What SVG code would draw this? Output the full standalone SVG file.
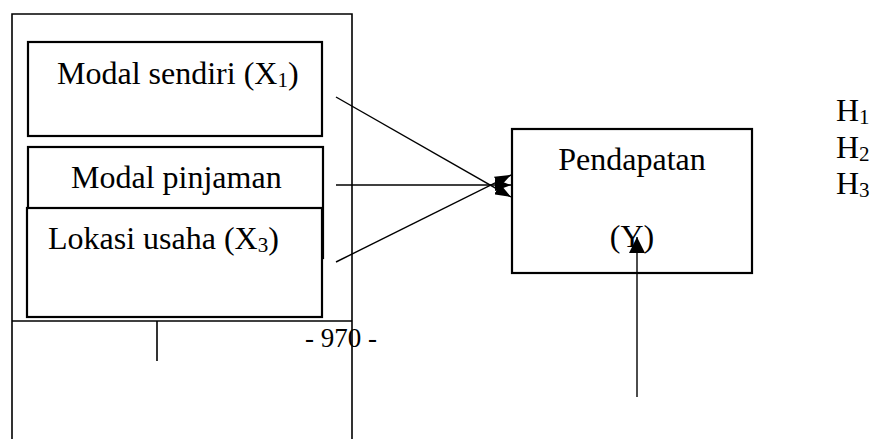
<svg xmlns="http://www.w3.org/2000/svg" width="875" height="439" viewBox="0 0 875 439">
<style>
text{font-family:"Liberation Serif","Times New Roman",serif;fill:#000;font-size:32px}
.box{fill:#fff;stroke:#000;stroke-width:2.2}
.frame{fill:none;stroke:#000;stroke-width:1.6}
.conn{fill:none;stroke:#000;stroke-width:1.4}
.sub{font-size:21px}
</style>
<defs>
<marker id="ah" markerUnits="userSpaceOnUse" markerWidth="16" markerHeight="12" refX="16" refY="6" orient="auto">
<path d="M0,0 L16,6 L0,12 z" fill="#000"/>
</marker>
<marker id="ahv" markerUnits="userSpaceOnUse" markerWidth="16" markerHeight="16" refX="16" refY="8" orient="auto">
<path d="M0,0 L16,8 L0,16 z" fill="#000"/>
</marker>
</defs>
<g id="frame">
<path class="frame" d="M12,439 V14 H352 V439"/>
<line class="frame" x1="12" y1="321" x2="352" y2="321"/>
<line class="frame" x1="157" y1="321" x2="157" y2="361"/>
</g>
<g id="node-x1">
<rect class="box" x="28" y="42" width="294" height="94"/>
<text x="57" y="84">Modal sendiri (X<tspan class="sub" dy="3">1</tspan><tspan dy="-3">)</tspan></text>
</g>
<g id="node-x2">
<rect class="box" x="28" y="147" width="295" height="111"/>
<text x="71" y="188">Modal pinjaman</text>
</g>
<g id="node-x3">
<rect class="box" x="27" y="208" width="295" height="109"/>
<text x="48" y="249">Lokasi usaha (X<tspan class="sub" dy="3">3</tspan><tspan dy="-3">)</tspan></text>
</g>
<g id="node-y">
<rect class="box" x="512" y="129" width="240" height="144"/>
<text x="632" y="170" text-anchor="middle">Pendapatan</text>
<text x="632" y="247" text-anchor="middle">(Y)</text>
</g>
<g id="hypotheses">
<text x="836" y="121">H<tspan class="sub" dy="3">1</tspan></text>
<text x="836" y="158">H<tspan class="sub" dy="3">2</tspan></text>
<text x="836" y="194">H<tspan class="sub" dy="3">3</tspan></text>
</g>
<text x="305" y="347" style="font-size:27px">- 970 -</text>
<g id="connectors">
<line class="conn" x1="336" y1="97" x2="511" y2="197" marker-end="url(#ah)"/>
<line class="conn" x1="336" y1="185" x2="511" y2="185" marker-end="url(#ah)"/>
<line class="conn" x1="336" y1="262" x2="511" y2="175" marker-end="url(#ah)"/>
<line class="conn" x1="637" y1="397" x2="637" y2="237" marker-end="url(#ahv)"/>
</g>
</svg>
